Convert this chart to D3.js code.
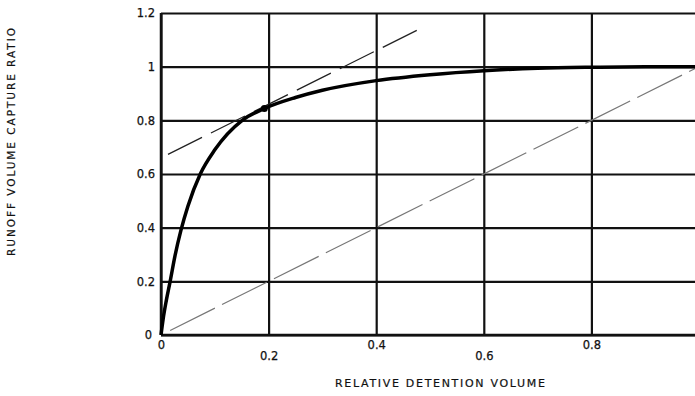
<!DOCTYPE html>
<html>
<head>
<meta charset="utf-8">
<script src="https://cdn.jsdelivr.net/npm/d3@7"></script>
<style>
  body { margin: 0; background: #fff; }
  text { font-family: "DejaVu Sans", sans-serif; fill: #111; }
</style>
</head>
<body>
<script>
// Width and height
var margin = {top: 13, right: -4, bottom: 61, left: 161};
var width = 695 - margin.left - margin.right;
var height = 396 - margin.top - margin.bottom;

// capture ratio curve
var curveX = [0, 0.004, 0.01, 0.017, 0.026, 0.037, 0.05, 0.073, 0.1, 0.151, 0.192, 0.25, 0.3, 0.4, 0.5, 0.6, 0.7, 0.8, 0.9, 1.0];
var curveY = [0, 0.06, 0.13, 0.2, 0.295, 0.39, 0.48, 0.6, 0.69, 0.8, 0.844, 0.885, 0.912, 0.948, 0.97, 0.985, 0.994, 0.998, 1.0, 1.0];

// optimum point and tangent line
var optimum = [0.192, 0.844];
var tangentX = [0.013, 0.486];
var tangentY = [0.673, 1.146];

// 1:1 line
var diagX = [0.017, 1.0];
var diagY = [0.017, 1.0];

var xTicks = [0, 0.2, 0.4, 0.6, 0.8, 1.0];
var yTicks = [0, 0.2, 0.4, 0.6, 0.8, 1.0, 1.2];

var xTitle = "RELATIVE DETENTION VOLUME";
var yTitle = "RUNOFF VOLUME CAPTURE RATIO";

var svg = d3.select("body")
  .append("svg")
  .attr("width", 695)
  .attr("height", 396);

var g = svg.append("g")
  .attr("transform", "translate(" + margin.left + "," + margin.top + ")");

var xScale = d3.scaleLinear().domain([0, 1]).range([0, width]);
var yScale = d3.scaleLinear().domain([0, 1.2]).range([height, 0]);
var fmt = d3.format("~g");

// grid via axes
var xAxis = d3.axisBottom(xScale).tickValues(xTicks).tickSize(-height).tickSizeOuter(0).tickFormat(fmt);
var xg = g.append("g").attr("transform", "translate(0," + height + ")").call(xAxis);
xg.select(".domain").remove();
xg.selectAll(".tick line").attr("stroke", "#111").attr("stroke-width", 2.2);
xg.selectAll(".tick text")
  .attr("font-size", 11.5)
  .attr("fill", "#111")
  .attr("stroke", "#111").attr("stroke-width", 0.25)
  .attr("y", function(d, i) { return i % 2 === 0 ? 6 : 17; })
  .attr("dy", "0.71em");

var yAxis = d3.axisLeft(yScale).tickValues(yTicks).tickSize(-width).tickSizeOuter(0).tickFormat(fmt);
var yg = g.append("g").call(yAxis);
yg.select(".domain").remove();
yg.selectAll(".tick line").attr("stroke", "#111").attr("stroke-width", 2.2);
yg.selectAll(".tick text")
  .attr("font-size", 11.5)
  .attr("fill", "#111")
  .attr("stroke", "#111").attr("stroke-width", 0.25)
  .attr("x", function(d) { return d === 0 ? -9 : -6; });

// frame left and bottom
g.append("line").attr("x1", 0).attr("x2", 0).attr("y1", 0).attr("y2", height)
  .attr("stroke", "#111").attr("stroke-width", 2.5);
g.append("line").attr("x1", 0).attr("x2", width).attr("y1", height).attr("y2", height)
  .attr("stroke", "#111").attr("stroke-width", 2.5);

var line = d3.line()
  .x(function(d) { return xScale(d[0]); })
  .y(function(d) { return yScale(d[1]); });

// 1:1 line
g.append("path")
  .datum(d3.zip(diagX, diagY))
  .attr("d", line)
  .attr("fill", "none")
  .attr("stroke", "#777")
  .attr("stroke-width", 1.2)
  .attr("stroke-dasharray", "50,8");

// tangent
g.append("path")
  .datum(d3.zip(tangentX, tangentY))
  .attr("d", line)
  .attr("fill", "none")
  .attr("stroke", "#222")
  .attr("stroke-width", 1.3)
  .attr("stroke-dasharray", "38,10");

// capture curve
g.append("path")
  .datum(d3.zip(curveX, curveY))
  .attr("d", d3.line()
    .x(function(d) { return xScale(d[0]); })
    .y(function(d) { return yScale(d[1]); })
    .curve(d3.curveMonotoneX))
  .attr("fill", "none")
  .attr("stroke", "#000")
  .attr("stroke-width", 3.5)
  .attr("stroke-linejoin", "round");

g.append("circle")
  .attr("cx", xScale(optimum[0]))
  .attr("cy", yScale(optimum[1]))
  .attr("r", 3.5)
  .attr("fill", "#000");

// titles
svg.append("text")
  .attr("x", 440)
  .attr("y", 387)
  .attr("text-anchor", "middle")
  .attr("font-size", 11)
  .attr("stroke", "#111").attr("stroke-width", 0.2)
  .attr("textLength", 210)
  .text(xTitle);

svg.append("text")
  .attr("transform", "translate(15,142) rotate(-90)")
  .attr("text-anchor", "middle")
  .attr("font-size", 10.5)
  .attr("stroke", "#111").attr("stroke-width", 0.2)
  .attr("textLength", 228)
  .text(yTitle);
</script>
</body>
</html>
